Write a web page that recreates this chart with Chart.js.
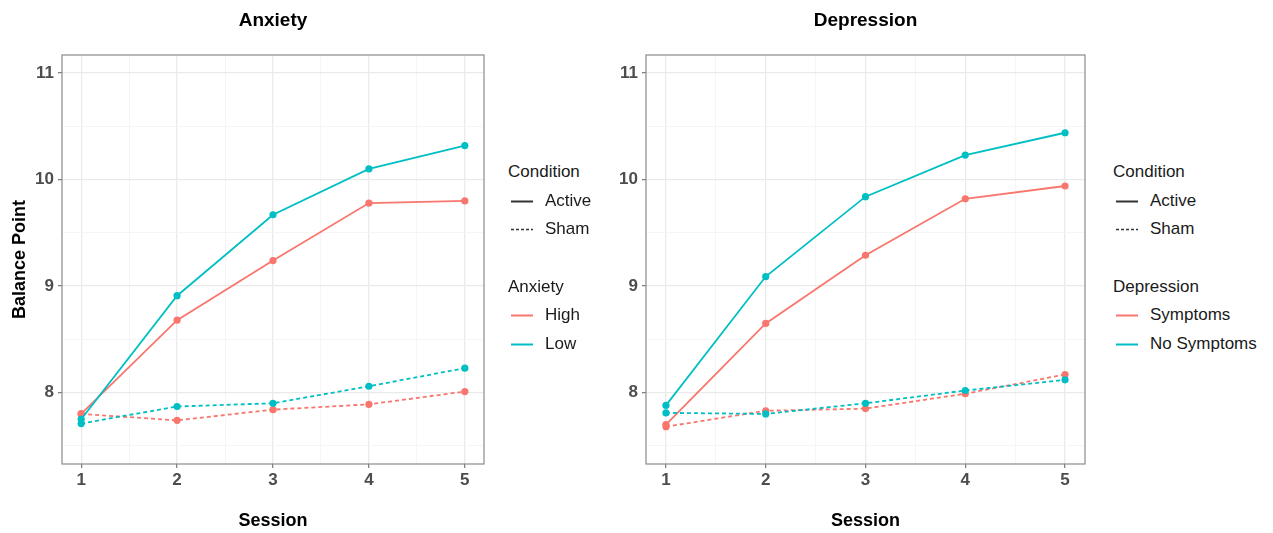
<!DOCTYPE html>
<html>
<head>
<meta charset="utf-8">
<script src="https://cdn.jsdelivr.net/npm/chart.js@4/dist/chart.umd.min.js"></script>
<style>
  body { margin: 0; width: 1273px; height: 533px; background: #fff; position: relative; overflow: hidden;
         font-family: "Liberation Sans", Arial, Helvetica, sans-serif; }
  canvas { position: absolute; top: 0; }
  .legend { position: absolute; top: 158px; color: #1a1a1a; font-size: 17px; }
  .legend .row { position: relative; height: 28.5px; line-height: 28.5px; white-space: nowrap; }
  .legend .row.item span { position: absolute; left: 37px; }
  .legend .row.gap { height: 29px; }
  .legend svg { position: absolute; left: 3px; top: 13px; }
</style>
</head>
<body>
<canvas id="anxiety" width="490" height="533" style="left:0"></canvas>
<canvas id="depression" width="506" height="533" style="left:584px"></canvas>

<div class="legend" style="left:508px">
  <div class="row">Condition</div>
  <div class="row item"><svg width="22" height="3"><line x1="0" y1="1.5" x2="22" y2="1.5" stroke="#333" stroke-width="2"/></svg><span>Active</span></div>
  <div class="row item"><svg width="22" height="3"><line x1="0" y1="1.5" x2="22" y2="1.5" stroke="#333" stroke-width="1.5" stroke-dasharray="3 2"/></svg><span>Sham</span></div>
  <div class="row gap"></div>
  <div class="row">Anxiety</div>
  <div class="row item"><svg width="22" height="3"><line x1="0" y1="1.5" x2="22" y2="1.5" stroke="#F8766D" stroke-width="2"/></svg><span>High</span></div>
  <div class="row item"><svg width="22" height="3"><line x1="0" y1="1.5" x2="22" y2="1.5" stroke="#00BFC4" stroke-width="2"/></svg><span>Low</span></div>
</div>

<div class="legend" style="left:1113px">
  <div class="row">Condition</div>
  <div class="row item"><svg width="22" height="3"><line x1="0" y1="1.5" x2="22" y2="1.5" stroke="#333" stroke-width="2"/></svg><span>Active</span></div>
  <div class="row item"><svg width="22" height="3"><line x1="0" y1="1.5" x2="22" y2="1.5" stroke="#333" stroke-width="1.5" stroke-dasharray="3 2"/></svg><span>Sham</span></div>
  <div class="row gap"></div>
  <div class="row">Depression</div>
  <div class="row item"><svg width="22" height="3"><line x1="0" y1="1.5" x2="22" y2="1.5" stroke="#F8766D" stroke-width="2"/></svg><span>Symptoms</span></div>
  <div class="row item"><svg width="22" height="3"><line x1="0" y1="1.5" x2="22" y2="1.5" stroke="#00BFC4" stroke-width="2"/></svg><span>No Symptoms</span></div>
</div>

<script>
var sessions = [1, 2, 3, 4, 5];

var anxHighActive = [7.80, 8.68, 9.24, 9.78, 9.80];
var anxLowActive  = [7.75, 8.91, 9.67, 10.10, 10.32];
var anxHighSham   = [7.80, 7.74, 7.84, 7.89, 8.01];
var anxLowSham    = [7.71, 7.87, 7.90, 8.06, 8.23];

var depSympActive   = [7.70, 8.65, 9.29, 9.82, 9.94];
var depNoSympActive = [7.88, 9.09, 9.84, 10.23, 10.44];
var depSympSham     = [7.68, 7.83, 7.85, 7.99, 8.17];
var depNoSympSham   = [7.81, 7.80, 7.90, 8.02, 8.12];

var xMajor = [1, 2, 3, 4, 5];
var xMinor = [1.5, 2.5, 3.5, 4.5];
var yMajor = [8, 9, 10, 11];
var yMinor = [7.5, 8.5, 9.5, 10.5];

var red = "#F8766D";
var teal = "#00BFC4";
var fontFamily = "'Liberation Sans', Arial, Helvetica, sans-serif";

function series(vals, color, dashed) {
    return {
        data: sessions.map(function(s, i) { return { x: s, y: vals[i] }; }),
        borderColor: color,
        backgroundColor: color,
        pointBackgroundColor: color,
        pointBorderWidth: 0,
        pointRadius: 3.6,
        borderWidth: 1.8,
        borderDash: dashed ? [4, 3] : [],
        tension: 0
    };
}

var panelBorder = {
    id: 'panelBorder',
    afterDraw: function(chart) {
        var a = chart.chartArea, ctx = chart.ctx;
        ctx.save();
        ctx.strokeStyle = '#8a8a8a';
        ctx.lineWidth = 1.2;
        ctx.strokeRect(a.left, a.top, a.right - a.left, a.bottom - a.top);
        ctx.restore();
    }
};

function gridOpts(major) {
    return {
        color: function(c) { return c.tick && major.indexOf(c.tick.value) >= 0 ? '#EAEAEA' : '#F3F3F3'; },
        lineWidth: function(c) { return c.tick && major.indexOf(c.tick.value) >= 0 ? 1.3 : 0.8; },
        tickColor: function(c) { return c.tick && major.indexOf(c.tick.value) >= 0 ? '#7a7a7a' : 'rgba(0,0,0,0)'; },
        tickLength: 4,
        tickWidth: 1.2
    };
}

function makePanel(id, title, yTitle, rightPad, datasets) {
    var ctx = document.getElementById(id).getContext("2d");
    return new Chart(ctx, {
        type: 'line',
        data: { datasets: datasets },
        plugins: [panelBorder],
        options: {
            responsive: false,
            animation: false,
            layout: { padding: { left: 0, right: rightPad, top: 0, bottom: 0 } },
            plugins: {
                legend: { display: false },
                tooltip: { enabled: false },
                title: {
                    display: true,
                    text: title,
                    fullSize: false,
                    color: '#000',
                    font: { family: fontFamily, size: 19, weight: 'bold' },
                    padding: { top: 9.5, bottom: 22.7 }
                }
            },
            scales: {
                x: {
                    type: 'linear',
                    min: 0.8,
                    max: 5.2,
                    afterBuildTicks: function(scale) {
                        scale.ticks = xMajor.concat(xMinor).sort(function(a, b) { return a - b; })
                            .map(function(v) { return { value: v }; });
                    },
                    afterFit: function(scale) { scale.height = 69; },
                    grid: gridOpts(xMajor),
                    border: { display: false },
                    ticks: {
                        autoSkip: false,
                        maxRotation: 0,
                        padding: 2,
                        color: '#4D4D4D',
                        font: { family: fontFamily, size: 17, weight: 'bold' },
                        callback: function(v) { return xMajor.indexOf(v) >= 0 ? String(v) : ''; }
                    },
                    title: {
                        display: true,
                        text: 'Session',
                        color: '#000',
                        font: { family: fontFamily, size: 18, weight: 'bold' },
                        padding: { top: 0, bottom: 1 }
                    }
                },
                y: {
                    type: 'linear',
                    min: 7.33,
                    max: 11.17,
                    afterBuildTicks: function(scale) {
                        scale.ticks = yMajor.concat(yMinor).sort(function(a, b) { return a - b; })
                            .map(function(v) { return { value: v }; });
                    },
                    afterFit: function(scale) { scale.width = 62; },
                    grid: gridOpts(yMajor),
                    border: { display: false },
                    ticks: {
                        autoSkip: false,
                        padding: 4,
                        color: '#4D4D4D',
                        font: { family: fontFamily, size: 17, weight: 'bold' },
                        callback: function(v) { return yMajor.indexOf(v) >= 0 ? String(v) : ''; }
                    },
                    title: {
                        display: yTitle !== '',
                        text: yTitle,
                        color: '#000',
                        font: { family: fontFamily, size: 18, weight: 'bold' },
                        padding: { top: 9, bottom: 0 }
                    }
                }
            }
        }
    });
}

makePanel("anxiety", "Anxiety", "Balance Point", 6, [
    series(anxLowActive, teal, false),
    series(anxLowSham, teal, true),
    series(anxHighActive, red, false),
    series(anxHighSham, red, true)
]);

makePanel("depression", "Depression", "", 5, [
    series(depNoSympActive, teal, false),
    series(depNoSympSham, teal, true),
    series(depSympActive, red, false),
    series(depSympSham, red, true)
]);
</script>
</body>
</html>
